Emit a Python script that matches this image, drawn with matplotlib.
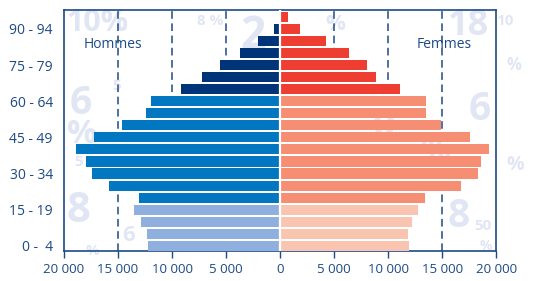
import numpy as np
import matplotlib
matplotlib.use('Agg')
import matplotlib.pyplot as plt
from matplotlib.ticker import FuncFormatter

plt.rcParams['font.family'] = ['Open Sans', 'DejaVu Sans']

# tranches d'âge, du bas vers le haut
ages = ['0 -  4', '5 - 9', '10 - 14', '15 - 19', '20 - 24', '25 - 29', '30 - 34',
        '35 - 39', '40 - 44', '45 - 49', '50 - 54', '55 - 59', '60 - 64',
        '65 - 69', '70 - 74', '75 - 79', '80 - 84', '85 - 89', '90 - 94', '95+']
hommes = [12200, 12300, 12900, 13500, 13100, 15800, 17400, 18000, 18900, 17200,
          14600, 12400, 11900, 9200, 7200, 5600, 3700, 2000, 550, 50]
femmes = [11900, 11850, 12200, 12800, 13400, 16700, 18300, 18600, 19350, 17600,
          14900, 13500, 13500, 11100, 8900, 8050, 6400, 4260, 1850, 740]
shown_labels = ['0 -  4', '15 - 19', '30 - 34', '45 - 49', '60 - 64', '75 - 79', '90 - 94']
x_ticks = [-20000, -15000, -10000, -5000, 0, 5000, 10000, 15000, 20000]

navy = '#1d4a85'

def couleur_h(i):
    if i < 4:
        return '#8fb0de'
    if i < 13:
        return '#0077c0'
    return '#003478'

def couleur_f(i):
    if i < 4:
        return '#f9c5b1'
    if i < 13:
        return '#f58e72'
    return '#ee3d31'

fig = plt.figure(figsize=(5.33, 2.81), dpi=100)

# chiffres décoratifs en filigrane (derrière le graphique)
wm = '#e1e6f4'
deco = [
    (0.125, 0.97, '10%', 22), (0.37, 0.95, '8 %', 11), (0.45, 0.95, '2', 32),
    (0.13, 0.70, '6', 28), (0.21, 0.72, '5', 11),
    (0.125, 0.58, '%', 24), (0.14, 0.45, '5', 11),
    (0.125, 0.32, '8', 30), (0.16, 0.13, '%', 11), (0.23, 0.20, '6', 16),
    (0.61, 0.95, '%', 16), (0.84, 0.97, '18', 26), (0.93, 0.95, '10', 11),
    (0.95, 0.80, '%', 12), (0.88, 0.68, '6', 28),
    (0.95, 0.45, '%', 14), (0.70, 0.62, '0', 28),
    (0.84, 0.30, '8', 28), (0.89, 0.22, '50', 11), (0.90, 0.15, '%', 10),
    (0.79, 0.52, '%', 24),
]
for x, y, s, fs in deco:
    fig.text(x, y, s, fontsize=fs, fontweight='bold', color=wm, va='top', zorder=0)

ax = fig.add_axes([0.120, 0.107, 0.811, 0.858])
ax.set_zorder(2)
ax.patch.set_alpha(0)

y = np.arange(len(ages))
ax.barh(y, [-v for v in hommes], height=0.84,
        color=[couleur_h(i) for i in y], zorder=3)
ax.barh(y, femmes, height=0.84,
        color=[couleur_f(i) for i in y], zorder=3)
ax.axvline(0, color='white', lw=1.6, zorder=4)

for xv in [-15000, -10000, -5000, 5000, 10000, 15000]:
    ax.axvline(xv, color=navy, lw=1.1, ls=(0, (5, 3)), zorder=1)

ax.set_xlim(-20000, 20000)
ax.set_ylim(-0.42, 19.58)
ax.set_xticks(x_ticks)
ax.xaxis.set_major_formatter(FuncFormatter(lambda v, p: f'{abs(int(v)):,}'.replace(',', ' ')))
ax.set_yticks([ages.index(l) for l in shown_labels])
ax.set_yticklabels(shown_labels)
ax.tick_params(axis='x', colors=navy, labelcolor=navy, labelsize=9.5, length=5, width=1, pad=4)
ax.tick_params(axis='y', colors=navy, labelcolor=navy, labelsize=10, length=0, pad=8)
for sp in ax.spines.values():
    sp.set_color(navy)
    sp.set_linewidth(1.2)

ax.text(-18200, 16.7, 'Hommes', color=navy, fontsize=10, va='center')
ax.text(12600, 16.7, 'Femmes', color=navy, fontsize=10, va='center')

fig.savefig('out.png', dpi=100)
